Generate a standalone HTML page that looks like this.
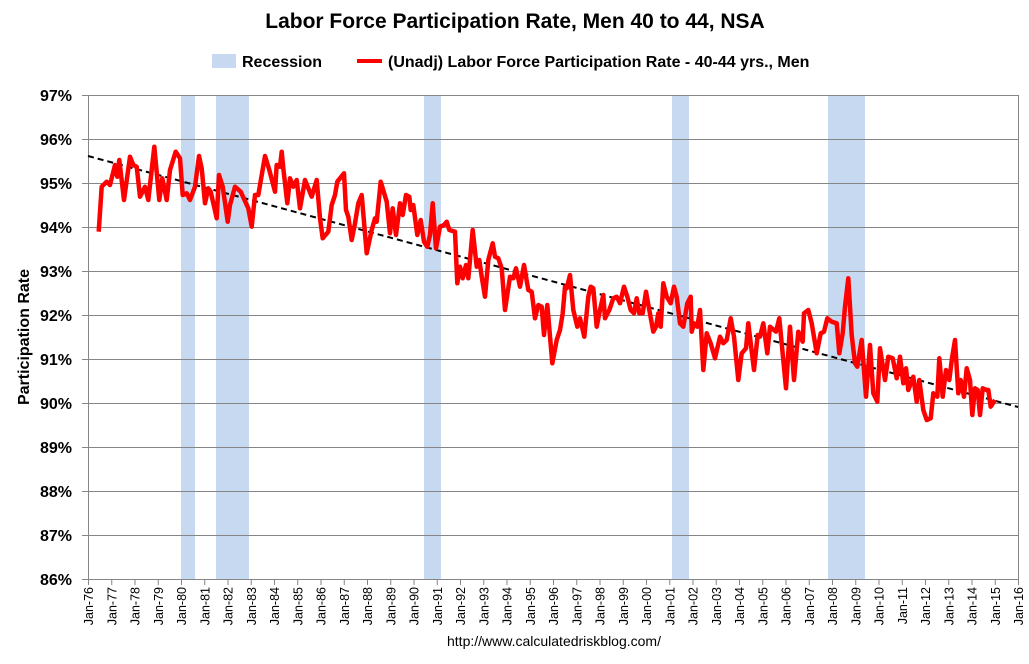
<!DOCTYPE html>
<html><head><meta charset="utf-8"><style>
body{margin:0;background:#fff;width:1029px;height:659px;overflow:hidden}
svg text{font-family:"Liberation Sans",Arial,sans-serif}
</style></head><body>
<svg id="s" width="1029" height="659" xmlns="http://www.w3.org/2000/svg">
<text x="515" y="28" text-anchor="middle" font-size="21" font-weight="bold">Labor Force Participation Rate, Men 40 to 44, NSA</text>
<rect x="212" y="54" width="24" height="14" fill="#c6d9f1"/>
<text x="242" y="67" font-size="16" font-weight="bold">Recession</text>
<line x1="357" y1="61" x2="382" y2="61" stroke="#f00" stroke-width="4"/>
<text x="388" y="67" font-size="16" font-weight="bold">(Unadj) Labor Force Participation Rate - 40-44 yrs., Men</text>
<g fill="#c6d9f1">
<rect x="181" y="95" width="14" height="484"/>
<rect x="216" y="95" width="33" height="484"/>
<rect x="424" y="95" width="17" height="484"/>
<rect x="672" y="95" width="17" height="484"/>
<rect x="828" y="95" width="37" height="484"/>
</g>
<g id="grid" stroke="#868686" stroke-width="1"></g>
<g id="lbl"></g>
<text transform="translate(29,337) rotate(-90)" text-anchor="middle" font-size="16" font-weight="bold">Participation Rate</text>
<line x1="88" y1="156" x2="1018" y2="407" stroke="#000" stroke-width="2" stroke-dasharray="6,4"/>
<polyline id="ser" fill="none" stroke="#f00" stroke-width="4.5" stroke-linejoin="round"/>
<text x="554" y="646" text-anchor="middle" font-size="14">http://www.calculatedriskblog.com/</text>
</svg>
<script>
var NS="http://www.w3.org/2000/svg",g=document.getElementById('grid'),l=document.getElementById('lbl');
function el(p,t,a,tx){var e=document.createElementNS(NS,t);for(var k in a)e.setAttribute(k,a[k]);if(tx)e.textContent=tx;p.appendChild(e);return e;}
for(var i=0;i<=11;i++){var y=95+i*44;el(g,'line',{x1:82,x2:1018,y1:y+.5,y2:y+.5});
el(l,'text',{x:72,y:y+6,'text-anchor':'end','font-size':16,'font-weight':'bold'},(97-i)+'%');}
el(g,'line',{x1:88.5,x2:88.5,y1:95,y2:579});el(g,'line',{x1:1018.5,x2:1018.5,y1:95,y2:579});
for(var i=0;i<=40;i++){var x=88.5+i*23.25;el(g,'line',{x1:x,x2:x,y1:579,y2:585});
var yr=(76+i)%100;var s='Jan-'+(yr<10?'0':'')+yr;
el(l,'text',{transform:'translate('+(x+4.5)+',587) rotate(-90)','text-anchor':'end','font-size':12.5},s);}
var z1=[[296,455],[305,320],[320,305],[330,315],[345,255],[352,290],[358,240],[372,360],[390,230],[400,255],[410,260],[420,350],[435,320],[445,360],[463,200],[478,360],[487,295],[500,360],[510,270],[527,215],[540,235],[548,345],[560,340],[570,360],[585,320],[597,228],[605,265],[615,370],[625,325],[632,335],[650,415],[657,285],[668,320],[683,425],[690,375],[705,320],[722,335],[745,385],[755,440],[765,345],[775,345],[795,228],[808,270],[825,335],[830,255],[840,260],[845,215],[850,265],[862,370],[870,295],[880,320],[890,300],[900,385],[915,300],[935,350],[950,300],[960,415],[968,475],[985,455],[995,375],[1005,345],[1012,305]];
var z3=[[12,70],[18,180],[25,200],[35,270],[45,220],[55,160],[65,135],[80,310],[95,240],[105,205],[110,215],[122,95],[140,155],[150,250],[158,175],[168,255],[180,160],[188,195],[198,135],[208,140],[212,180],[220,165],[232,255],[242,210],[252,275],[262,290],[270,255],[278,160],[288,295],[300,230],[312,225],[320,215],[328,240],[345,245],[352,400],[360,350],[368,385],[378,345],[385,385],[398,240],[410,350],[418,330],[425,380],[435,440],[445,330],[458,280],[465,320],[475,325],[485,355],[495,480],[510,380],[520,385],[528,355],[540,410],[552,345],[565,420],[575,425],[585,505],[595,465],[605,470],[612,555],[622,465],[637,640],[650,570],[660,540],[668,490],[675,410],[680,415],[690,375],[700,480],[712,530],[720,505],[733,560],[745,440],[752,410],[760,415],[770,530],[778,490],[790,435],[795,505],[808,480],[820,445],[830,440],[840,460],[852,410],[862,440],[872,480],[882,490],[890,445],[898,490],[908,490],[918,425],[928,480],[940,545],[948,530],[955,490],[962,530],[970,400],[980,440],[992,460],[1002,410],[1010,440],[1020,520]];
var z4=[[70,170],[82,100],[92,80],[95,185],[102,160],[112,170],[120,120],[130,300],[140,190],[152,220],[165,265],[180,200],[190,220],[200,210],[212,145],[222,200],[235,330],[245,250],[258,235],[265,160],[282,300],[293,195],[300,200],[310,160],[322,250],[330,170],[348,185],[358,145],[378,355],[390,170],[402,330],[415,185],[428,215],[432,130],[445,120],[455,160],[470,250],[482,190],[492,185],[502,145],[515,155],[530,160],[538,250],[548,190],[555,110],[565,25],[575,195],[585,280],[592,290],[605,210],[618,380],[630,225],[640,370],[652,395],[660,235],[675,330],[685,260],[698,265],[710,325],[720,260],[730,340],[738,295],[745,360],[760,320],[770,395],[778,330],[790,420],[800,450],[812,445],[820,370],[832,380],[838,265],[848,380],[858,300],[868,330],[876,265],[885,210],[895,370],[902,330],[912,380],[920,295],[930,330],[937,435],[945,355],[953,360],[960,435],[968,355],[980,360],[985,360],[992,410],[1005,390]];
var pts=[];
z1.forEach(function(p){pts.push((p[0]/3).toFixed(1)+','+(80+p[1]/3).toFixed(1));});
z3.forEach(function(p){pts.push((340+p[0]/3).toFixed(1)+','+(150+p[1]/3).toFixed(1));});
z4.forEach(function(p){pts.push((660+p[0]/3).toFixed(1)+','+(270+p[1]/3).toFixed(1));});
document.getElementById('ser').setAttribute('points',pts.join(' '));
</script>
</body></html>
